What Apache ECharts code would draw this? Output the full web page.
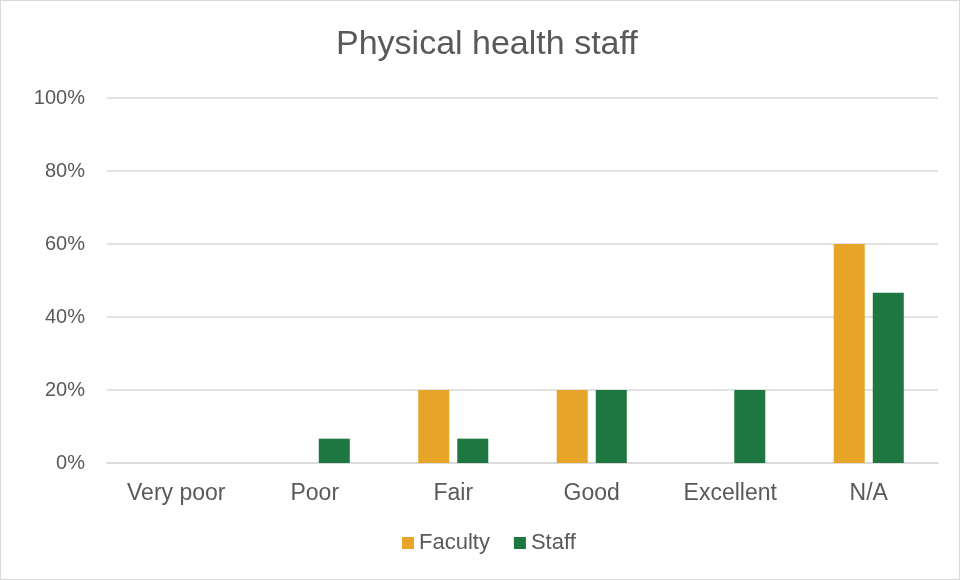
<!DOCTYPE html>
<html>
<head>
<meta charset="utf-8">
<script src="https://cdn.jsdelivr.net/npm/echarts@6/dist/echarts.min.js"></script>
<style>
html, body { margin: 0; padding: 0; background: #fff; }
#main { width: 958px; height: 578px; border: 1px solid #d9d9d9; }
</style>
</head>
<body>
<div id="main"></div>
<script>
// 数据
const categories = ['Very poor', 'Poor', 'Fair', 'Good', 'Excellent', 'N/A']
const facultyValues = [0, 0, 20, 20, 0, 60]
const staffValues = [0, 6.67, 6.67, 20, 20, 46.67]
const yTicks = [0, 20, 40, 60, 80, 100]

let myChart = echarts.init(document.getElementById('main'))

let chartOption = {
	animation: false,
	textStyle: { fontFamily: 'Arial, "Liberation Sans", sans-serif' },
	title: {
		text: 'Physical health staff',
		left: 330,
		top: 22,
		textStyle: { fontSize: 34, fontWeight: 'normal', color: '#595959' }
	},
	legend: {
		bottom: 20,
		left: 396,
		itemWidth: 12,
		itemHeight: 12,
		itemGap: 24,
		icon: 'rect',
		textStyle: { fontSize: 22, color: '#595959' },
		data: ['Faculty', 'Staff']
	},
	grid: {
		left: 106,
		right: 21,
		top: 97,
		bottom: 116
	},
	xAxis: {
		type: 'category',
		data: categories,
		axisTick: { show: false },
		axisLine: { lineStyle: { color: '#d9d9d9', width: 1.5 } },
		axisLabel: { fontSize: 23, color: '#595959', margin: 19 }
	},
	yAxis: {
		type: 'value',
		min: yTicks[0],
		max: yTicks[yTicks.length - 1],
		interval: 20,
		axisLabel: { fontSize: 20, color: '#595959', formatter: '{value}%', margin: 22 },
		splitLine: { lineStyle: { color: '#d9d9d9', width: 1.5 } },
		axisLine: { show: false },
		axisTick: { show: false }
	},
	series: [
		{
			name: 'Faculty',
			type: 'bar',
			data: facultyValues,
			barWidth: 31,
			barGap: '26%',
			itemStyle: { color: '#E6A428' }
		},
		{
			name: 'Staff',
			type: 'bar',
			data: staffValues,
			barWidth: 31,
			barGap: '26%',
			itemStyle: { color: '#1E7740' }
		}
	]
}

chartOption && myChart.setOption(chartOption)
</script>
</body>
</html>
